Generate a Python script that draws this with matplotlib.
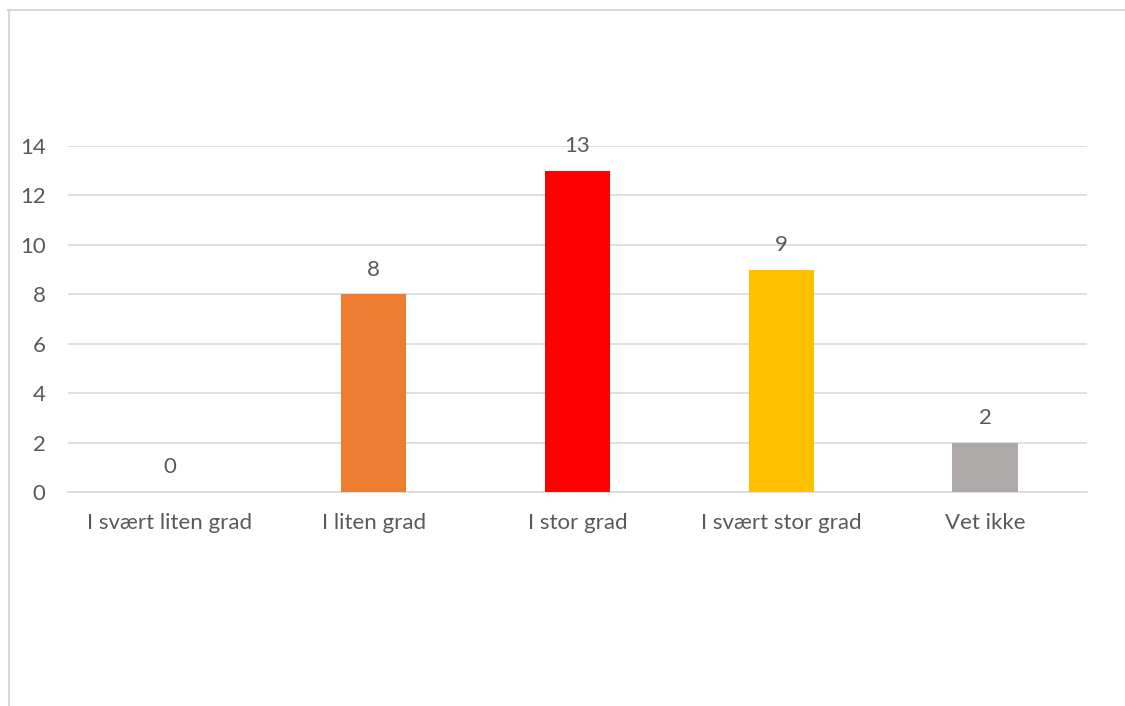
import matplotlib.pyplot as plt
from matplotlib.lines import Line2D

categories = ["I svært liten grad", "I liten grad", "I stor grad", "I svært stor grad", "Vet ikke"]
values = [0, 8, 13, 9, 2]
colors = ["#5B9BD5", "#ED7D31", "#FF0000", "#FFC000", "#AEAAAA"]
yticks = [0, 2, 4, 6, 8, 10, 12, 14]

plt.rcParams["font.family"] = ["Lato", "DejaVu Sans"]
text_color = "#595959"
grid_color = "#D9D9D9"

fig = plt.figure(figsize=(11.25, 7.06), dpi=100)
ax = fig.add_axes([0.0604, 0.3031, 0.9058, 0.4901])

x = range(len(categories))
bars = ax.bar(x, values, width=0.32, color=colors, zorder=3)
for b, v in zip(bars, values):
    ax.text(b.get_x() + b.get_width() / 2, v + 1.0, str(v), ha="center", va="center",
            fontsize=16, color=text_color)

ax.set_xlim(-0.5, len(categories) - 0.5)
ax.set_ylim(0, 14)
ax.set_yticks(yticks)
ax.set_xticks(list(x))
ax.set_xticklabels(categories)
ax.tick_params(axis="both", length=0, labelsize=16, labelcolor=text_color)
ax.tick_params(axis="x", pad=15)
ax.tick_params(axis="y", pad=16)
ax.grid(axis="y", color=grid_color, linewidth=1.2, zorder=0)
for s in ["top", "right", "left"]:
    ax.spines[s].set_visible(False)
ax.spines["bottom"].set_color(grid_color)
ax.spines["bottom"].set_linewidth(1.2)

# outer frame on top and left edges
fig.add_artist(Line2D([8 / 1125, 1.0], [1 - 9.5 / 706] * 2, color=grid_color, linewidth=1.5))
fig.add_artist(Line2D([8.5 / 1125] * 2, [0, 1 - 9.5 / 706], color=grid_color, linewidth=1.5))

fig.savefig("out.png", dpi=100)
